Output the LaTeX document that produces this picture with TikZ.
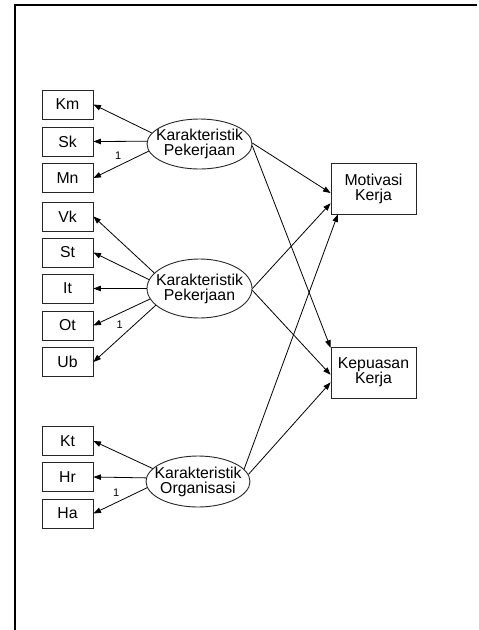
\documentclass[tikz,border=0pt]{standalone}
\usepackage{fontspec}
\setmainfont{Liberation Sans}
\usetikzlibrary{shapes.geometric,arrows.meta}
\begin{document}
\begin{tikzpicture}[x=1pt,y=-1pt,
  every node/.style={font=\fontsize{15.8}{15}\selectfont},
  obs/.style={draw=black!85, line width=0.9pt, minimum width=51pt, minimum height=29pt, inner sep=0pt},
  lat/.style={ellipse, draw=black!85, line width=0.9pt, minimum width=105pt, inner sep=0pt},
  big/.style={draw=black!85, line width=0.9pt, minimum width=85pt, minimum height=51pt, inner sep=0pt, align=center},
  arr/.style={line width=0.8pt, -{Triangle[length=7.5pt,width=5.5pt]}},
  one/.style={font=\fontsize{11}{11}\selectfont, inner sep=0pt}
]
\useasboundingbox (0,0) rectangle (479,630);
\draw[line width=2pt] (15,630) -- (15,5) -- (477,5);

% observed indicators
\node[obs] (Km) at (67.5,104.5) {Km};
\node[obs] (Sk) at (67.5,141.5) {Sk};
\node[obs] (Mn) at (67.5,178) {Mn};
\node[obs] (Vk) at (67.5,216.5) {Vk};
\node[obs] (St) at (67.5,252.5) {St};
\node[obs] (It) at (67.5,288.5) {It};
\node[obs] (Ot) at (67.5,325.5) {Ot};
\node[obs] (Ub) at (67.5,362) {Ub};
\node[obs] (Kt) at (67.5,441) {Kt};
\node[obs] (Hr) at (67.5,477) {Hr};
\node[obs] (Ha) at (67.5,513.5) {Ha};

% latent variables
\node[lat, minimum height=50pt, label={[align=center, inner sep=0pt]center:Karakteristik\\Pekerjaan}] (E1) at (199.5,144) {};
\node[lat, minimum height=59pt, label={[align=center, inner sep=0pt]center:Karakteristik\\Pekerjaan}] (E2) at (199.5,288.5) {};
\node[lat, minimum width=104pt, minimum height=51pt, label={[align=center, inner sep=0pt]center:Karakteristik\\Organisasi}] (E3) at (198,481.5) {};

% outcomes
\node[big] (Mot) at (373.5,188.5) {Motivasi\\Kerja};
\node[big] (Kep) at (373.5,372.5) {Kepuasan\\Kerja};

% measurement paths
\draw[arr] (E1.167) -- (Km.east);
\draw[arr] (E1.177) -- (Sk.east);
\draw[arr] (E1.188) -- node[one, pos=0.5, xshift=-3pt, yshift=9pt] (l1) {1} (Mn.east);

\draw[arr] (E2.161) -- (Vk.east);
\draw[arr] (E2.170) -- (St.east);
\draw[arr] (E2.180) -- (It.east);
\draw[arr] (E2.192) -- (Ot.east);
\draw[arr] (E2.201) -- node[one, pos=0.5, xshift=-5pt, yshift=9pt] (l2) {1} (Ub.east);

\draw[arr] (E3.164) -- (Kt.east);
\draw[arr] (E3.176) -- (Hr.east);
\draw[arr] (E3.187) -- node[one, pos=0.5, xshift=-4pt, yshift=8pt] (l3) {1} (Ha.east);

% structural paths
\draw[arr] (E1.1) -- (Mot.186);
\draw[arr] (E1.358) -- (Kep.150);
\draw[arr] (E2.0) -- (Mot.199);
\draw[arr] (E2.358) -- (Kep.183);
\draw[arr] (E3.15) -- (Mot.216);
\draw[arr] (E3.8) -- (Kep.193);
\end{tikzpicture}
\end{document}
